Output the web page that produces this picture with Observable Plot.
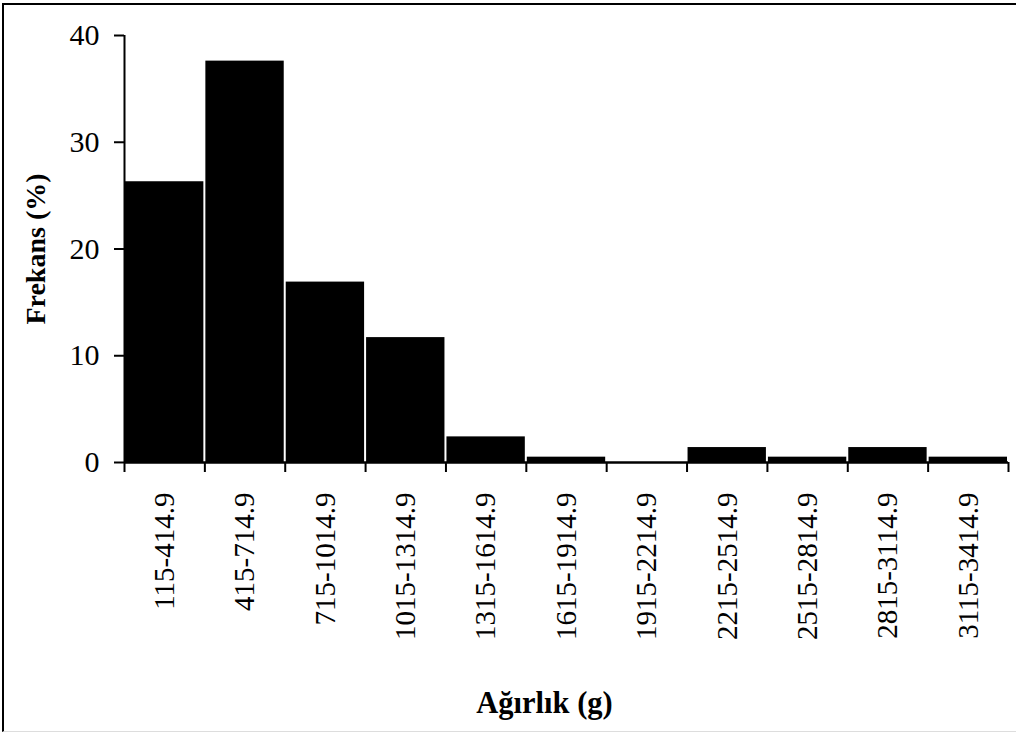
<!DOCTYPE html>
<html>
<head>
<meta charset="utf-8">
<script src="https://cdn.jsdelivr.net/npm/d3@7"></script>
<script src="https://cdn.jsdelivr.net/npm/@observablehq/plot@0.6"></script>
<style>
  html, body { margin: 0; padding: 0; background: #fff; }
  #wrap { position: relative; width: 1016px; height: 735px; overflow: hidden; }
  #border { position: absolute; left: 2px; top: 3px; width: 1030px; height: 729px;
            border-left: 2px solid #000; border-top: 2px solid #000; border-bottom: 1px solid #ddd; box-sizing: border-box; pointer-events: none; }
  svg { position: absolute; left: 0; top: 0; }
</style>
</head>
<body>
<div id="wrap"><div id="border"></div></div>
<script>
const categories = ["115-414.9", "415-714.9", "715-1014.9", "1015-1314.9", "1315-1614.9",
  "1615-1914.9", "1915-2214.9", "2215-2514.9", "2515-2814.9", "2815-3114.9", "3115-3414.9"];
const frequency = [26.3, 37.6, 16.9, 11.7, 2.4, 0.5, 0, 1.4, 0.5, 1.4, 0.5];
const yTicks = [0, 10, 20, 30, 40];
const yTitle = "Frekans (%)";
const xTitle = "Ağırlık (g)";

const data = categories.map((c, i) => ({bin: c, i, value: frequency[i]}));
const font = "'Liberation Serif', 'Times New Roman', serif";

const chart = Plot.plot({
  width: 1016,
  height: 735,
  marginLeft: 124,
  marginRight: 8,
  marginTop: 35,
  marginBottom: 273,
  style: {fontFamily: font, color: "#000", background: "transparent", overflow: "visible"},
  x: {type: "linear", domain: [0, categories.length]},
  y: {domain: [0, 40]},
  marks: [
    Plot.rectY(data.filter(d => d.value > 0), {x1: "i", x2: d => d.i + 1, y1: 0, y2: "value", fill: "#000", insetLeft: 1, insetRight: 1}),
    Plot.ruleX([0], {y1: 0, y2: 40, stroke: "#000", strokeWidth: 2}),
    Plot.ruleY([0], {stroke: "#000", strokeWidth: 2.5}),
    Plot.axisY({ticks: yTicks, tickSize: 10, tickPadding: 15, fontSize: 30, label: null, strokeWidth: 2}),
    Plot.axisX({ticks: d3.range(categories.length + 1), tickSize: 10, tickFormat: () => "", label: null, strokeWidth: 2}),
    Plot.text(data, {x: d => d.i + 0.5, y: 0, text: "bin", rotate: -90, textAnchor: "end", lineAnchor: "middle", dy: 30, fontSize: 29, fill: "#000"}),
    Plot.text([yTitle], {frameAnchor: "left", rotate: -90, textAnchor: "middle", dx: -88, fontWeight: "bold", fontSize: 28, fill: "#000"}),
    Plot.text([xTitle], {frameAnchor: "bottom", textAnchor: "middle", dx: -22, dy: 250, fontWeight: "bold", fontSize: 30.5, fill: "#000"})
  ]
});
document.getElementById("wrap").appendChild(chart);
</script>
</body>
</html>
